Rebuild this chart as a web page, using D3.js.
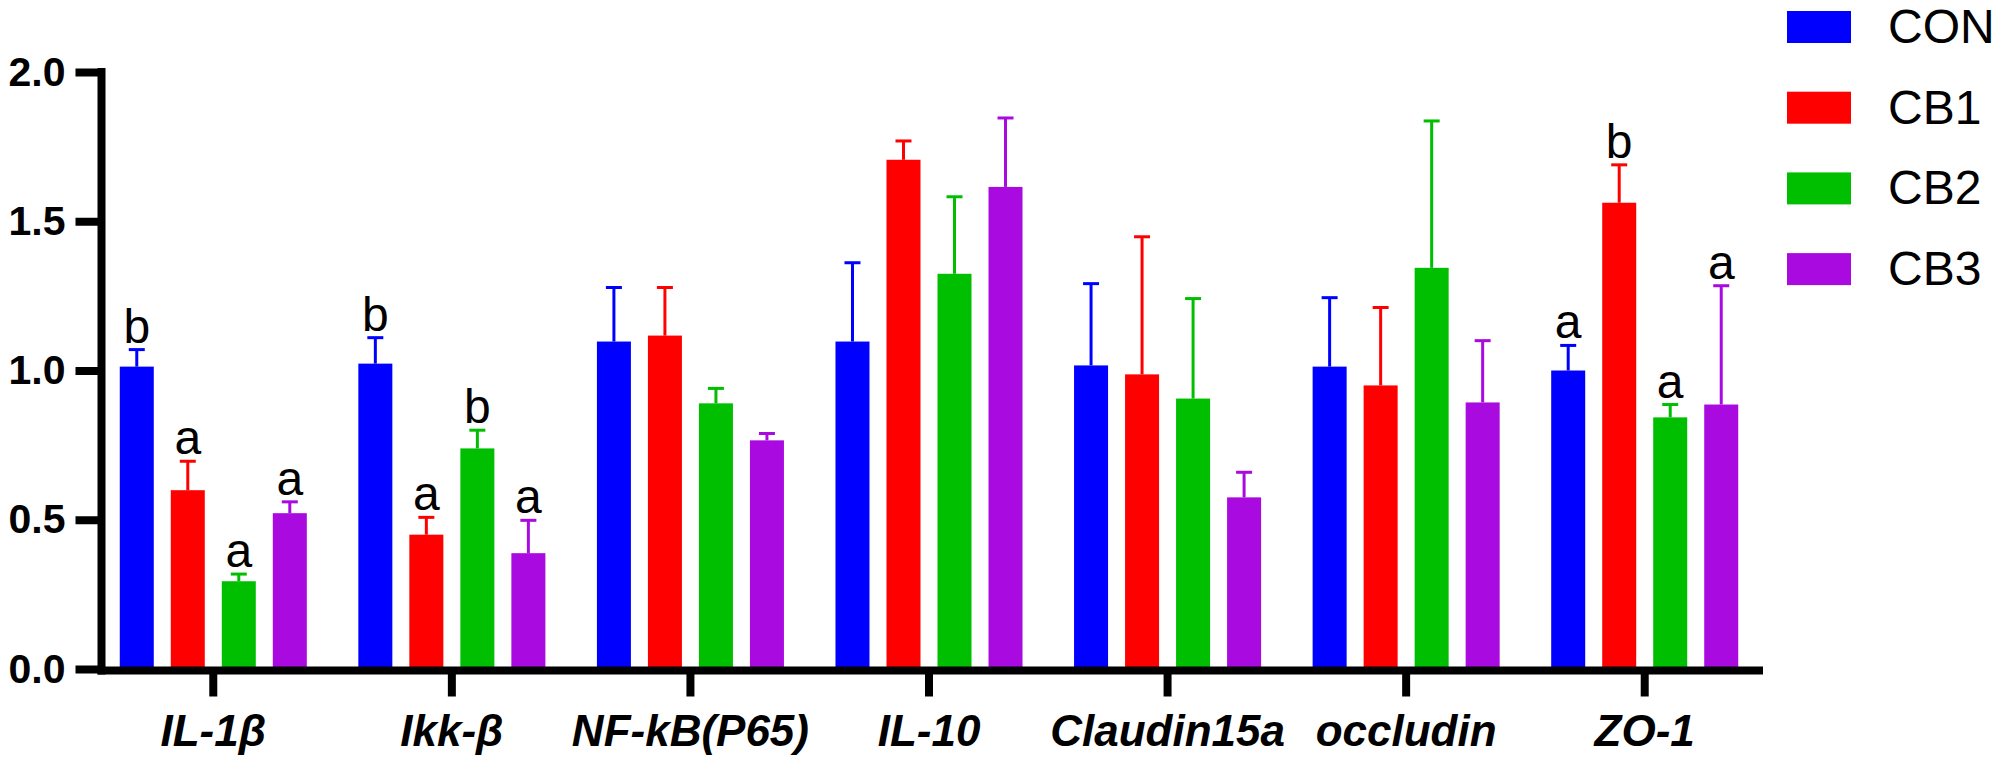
<!DOCTYPE html>
<html>
<head>
<meta charset="utf-8">
<script src="https://cdn.jsdelivr.net/npm/d3@7"></script>
<style>
  body { margin: 0; background: #fff; }
  text { font-family: "Liberation Sans", Arial, sans-serif; }
</style>
</head>
<body>
<div id="chart"></div>
<script>
var genes = ['IL-1β', 'Ikk-β', 'NF-kB(P65)', 'IL-10', 'Claudin15a', 'occludin', 'ZO-1'];
var groups = ['CON', 'CB1', 'CB2', 'CB3'];
var colors = ['#0000ff', '#ff0000', '#00bf00', '#a90ae0'];

// mean values per group, in gene order
var conValues = [1.013, 1.023, 1.097, 1.097, 1.017, 1.013, 1.000];
var cb1Values = [0.599, 0.450, 1.117, 1.706, 0.987, 0.950, 1.562];
var cb2Values = [0.294, 0.739, 0.890, 1.324, 0.906, 1.344, 0.843];
var cb3Values = [0.522, 0.388, 0.766, 1.615, 0.575, 0.893, 0.886];

// error bar (upper) sizes
var conErrors = [0.057, 0.087, 0.181, 0.264, 0.274, 0.231, 0.084];
var cb1Errors = [0.097, 0.058, 0.161, 0.063, 0.461, 0.261, 0.127];
var cb2Errors = [0.024, 0.061, 0.050, 0.258, 0.335, 0.492, 0.043];
var cb3Errors = [0.038, 0.110, 0.023, 0.231, 0.084, 0.207, 0.398];

// significance letters, '' = none
var conLetters = ['b', 'b', '', '', '', '', 'a'];
var cb1Letters = ['a', 'a', '', '', '', '', 'b'];
var cb2Letters = ['a', 'b', '', '', '', '', 'a'];
var cb3Letters = ['a', 'a', '', '', '', '', 'a'];

var yTicks = [0, 0.5, 1.0, 1.5, 2.0];

var values = [conValues, cb1Values, cb2Values, cb3Values];
var errors = [conErrors, cb1Errors, cb2Errors, cb3Errors];
var letters = [conLetters, cb1Letters, cb2Letters, cb3Letters];

var width = 1999;
var height = 760;

var svg = d3.select('#chart').append('svg')
    .attr('width', width)
    .attr('height', height)
    .style('background', '#fff');

var y = d3.scaleLinear().domain([0, 2]).range([669, 72]);

var x0 = d3.scaleBand().domain(genes)
    .range([94, 1764])
    .paddingInner(0.216)
    .paddingOuter(0.108);

var x1 = d3.scaleBand().domain(groups)
    .range([0, x0.bandwidth()])
    .paddingInner(1 / 3);

var rows = [];
genes.forEach(function(g, i) {
    groups.forEach(function(s, j) {
        rows.push({gene: g, group: s, j: j, value: values[j][i], err: errors[j][i], letter: letters[j][i]});
    });
});

var bars = svg.append('g').selectAll('g')
    .data(rows)
    .enter().append('g');

bars.append('rect')
    .attr('x', function(d) { return x0(d.gene) + x1(d.group); })
    .attr('y', function(d) { return y(d.value); })
    .attr('width', x1.bandwidth())
    .attr('height', function(d) { return y(0) - y(d.value); })
    .style('fill', function(d) { return colors[d.j]; });

bars.append('line')
    .attr('x1', function(d) { return x0(d.gene) + x1(d.group) + x1.bandwidth() / 2; })
    .attr('x2', function(d) { return x0(d.gene) + x1(d.group) + x1.bandwidth() / 2; })
    .attr('y1', function(d) { return y(d.value); })
    .attr('y2', function(d) { return y(d.value + d.err); })
    .style('stroke', function(d) { return colors[d.j]; })
    .style('stroke-width', 3);

bars.append('line')
    .attr('x1', function(d) { return x0(d.gene) + x1(d.group) + x1.bandwidth() / 2 - 8; })
    .attr('x2', function(d) { return x0(d.gene) + x1(d.group) + x1.bandwidth() / 2 + 8; })
    .attr('y1', function(d) { return y(d.value + d.err); })
    .attr('y2', function(d) { return y(d.value + d.err); })
    .style('stroke', function(d) { return colors[d.j]; })
    .style('stroke-width', 3);

bars.filter(function(d) { return d.letter !== ''; })
    .append('text')
    .attr('x', function(d) { return x0(d.gene) + x1(d.group) + x1.bandwidth() / 2; })
    .attr('y', function(d) { return y(d.value + d.err) - 7; })
    .attr('text-anchor', 'middle')
    .style('font-size', '48px')
    .style('fill', '#000')
    .text(function(d) { return d.letter; });

// y axis
var yAxis = svg.append('g')
    .attr('transform', 'translate(101.5,0)')
    .call(d3.axisLeft(y).tickValues(yTicks).tickFormat(d3.format('.1f')).tickSize(26).tickSizeOuter(0).tickPadding(10));
yAxis.select('.domain').remove();
yAxis.selectAll('.tick line').style('stroke', '#000').style('stroke-width', 8);
yAxis.selectAll('.tick text')
    .style('font-size', '41px')
    .style('font-weight', 'bold')
    .style('fill', '#000');
yAxis.append('line')
    .attr('x1', 0).attr('x2', 0)
    .attr('y1', y(2) - 4).attr('y2', y(0) + 5.5)
    .style('stroke', '#000')
    .style('stroke-width', 8);

// x axis
var xAxis = svg.append('g')
    .attr('transform', 'translate(0,' + (y(0) + 1.5) + ')')
    .call(d3.axisBottom(x0).tickSize(26).tickSizeOuter(0));
xAxis.select('.domain').remove();
xAxis.selectAll('.tick line').style('stroke', '#000').style('stroke-width', 8);
xAxis.selectAll('.tick text')
    .attr('y', 75)
    .attr('dy', 0)
    .style('font-size', '44px')
    .style('font-weight', 'bold')
    .style('font-style', 'italic')
    .style('fill', '#000');
xAxis.append('line')
    .attr('x1', 97.5).attr('x2', 1763)
    .attr('y1', 0).attr('y2', 0)
    .style('stroke', '#000')
    .style('stroke-width', 8);

// legend
var legend = svg.append('g').selectAll('g')
    .data(groups)
    .enter().append('g')
    .attr('transform', function(d, i) { return 'translate(1787,' + (11 + i * 80.7) + ')'; });

legend.append('rect')
    .attr('width', 64)
    .attr('height', 32)
    .style('fill', function(d, i) { return colors[i]; });

legend.append('text')
    .attr('x', 101)
    .attr('y', 32)
    .style('font-size', '48px')
    .style('fill', '#000')
    .text(function(d) { return d; });
</script>
</body>
</html>
